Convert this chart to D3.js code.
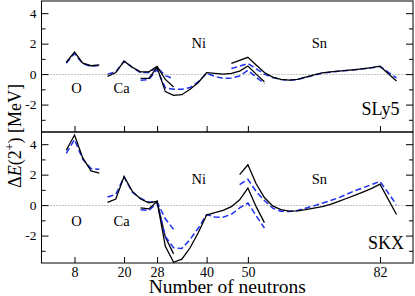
<!DOCTYPE html>
<html>
<head>
<meta charset="utf-8">
<script src="https://cdn.jsdelivr.net/npm/d3@7"></script>
<style>
  body { margin: 0; background: #fff; }
</style>
</head>
<body>
<div id="chart"></div>
<script>
'use strict';

// neutron numbers of each isotope chain
var oN = [6, 8, 10, 12, 14];
var caN = [16, 18, 20, 22, 24, 26, 28, 30, 32];
var niN = [24, 26, 28, 30, 32, 34, 36, 38, 40, 42, 44, 46, 48, 50, 52, 54];
var snN = [46, 48, 50, 52, 54, 56, 58, 60, 62, 64, 66, 68, 70, 72, 74, 76, 78, 80, 82, 86];

// SLy5 panel: solid (black) and dashed (blue)
var slyOSolid = [0.78, 1.45, 0.72, 0.55, 0.6];
var slyODashed = [0.72, 1.35, 0.68, 0.5, 0.58];
var slyCaSolid = [-0.15, 0.1, 0.85, 0.45, 0.15, 0.15, 0.5, -0.35, -0.85];
var slyCaDashed = [0.0, 0.15, 0.85, 0.45, 0.1, 0.1, 0.45, -0.1, -0.3];
var slyNiSolid = [-0.28, -0.28, 0.45, -1.15, -1.4, -1.35, -1.0, -0.55, 0.1, 0.05, 0.0, 0.05, 0.2, 0.53, 0.0, -0.5];
var slyNiDashed = [-0.4, -0.35, 0.3, -0.9, -1.0, -1.0, -0.88, -0.5, 0.05, -0.15, -0.28, -0.25, -0.12, 0.25, -0.2, -0.62];
var slySnSolid = [0.7, 0.9, 1.1, 0.6, 0.1, -0.2, -0.35, -0.4, -0.35, -0.2, -0.05, 0.08, 0.15, 0.2, 0.25, 0.3, 0.36, 0.43, 0.52, -0.45];
var slySnDashed = [0.37, 0.52, 0.7, 0.35, 0.0, -0.22, -0.35, -0.4, -0.36, -0.22, -0.07, 0.06, 0.13, 0.19, 0.24, 0.29, 0.35, 0.42, 0.5, -0.25];

// SKX panel
var skxOSolid = [3.6, 4.6, 3.1, 2.25, 2.1];
var skxODashed = [3.4, 4.3, 3.0, 2.4, 2.35];
var skxCaSolid = [0.18, 0.4, 1.88, 0.9, 0.4, 0.15, 0.25, -2.1, -3.2];
var skxCaDashed = [0.53, 0.7, 1.85, 0.85, 0.45, 0.2, 0.2, -0.9, -1.6];
var skxNiSolid = [-0.18, -0.25, 0.25, -2.7, -3.75, -3.55, -2.8, -1.8, -0.65, -0.5, -0.35, -0.1, 0.35, 1.12, -0.1, -1.15];
var skxNiDashed = [-0.3, -0.35, 0.15, -2.05, -2.8, -2.85, -2.25, -1.5, -0.62, -0.78, -0.8, -0.6, -0.18, 0.14, -0.7, -1.5];
var skxSnSolid = [null, 2.0, 2.65, 1.4, 0.5, -0.05, -0.3, -0.4, -0.38, -0.3, -0.2, -0.1, 0.05, 0.25, 0.45, 0.65, 0.87, 1.1, 1.38, -0.62];
var skxSnDashed = [null, 1.35, 1.7, 0.9, 0.3, -0.2, -0.4, -0.42, -0.35, -0.2, -0.05, 0.12, 0.3, 0.48, 0.72, 0.95, 1.15, 1.35, 1.56, 0.03];

var xTicks = [8, 20, 28, 40, 50, 82];
var yMajor = [-2, 0, 2, 4];
var yMinor = [-3, -1, 1, 3];
var chainNames = ['O', 'Ca', 'Ni', 'Sn'];
var chainLabelN = [8.5, 19.4, 38.1, 67.3];

var w = 415, h = 296;
var left = 41.5, right = 413;
var panelH = 131;
var panelTops = [1, 132];

var svg = d3.select('#chart')
  .append('svg')
  .attr('width', w)
  .attr('height', h)
  .attr('viewBox', '0 0 ' + w + ' ' + h);

var x = d3.scaleLinear().domain([0, 90]).range([left, right]);

var panels = [
  {
    name: 'SLy5',
    nameX: 399.5,
    nameY: 115,
    series: [
      [oN, slyOSolid, slyODashed],
      [caN, slyCaSolid, slyCaDashed],
      [niN, slyNiSolid, slyNiDashed],
      [snN, slySnSolid, slySnDashed]
    ],
    labelY: [93, 93, 48, 48]
  },
  {
    name: 'SKX',
    nameX: 404,
    nameY: 248.5,
    series: [
      [oN, skxOSolid, skxODashed],
      [caN, skxCaSolid, skxCaDashed],
      [niN, skxNiSolid, skxNiDashed],
      [snN, skxSnSolid, skxSnDashed]
    ],
    labelY: [226, 226, 183.5, 183.5]
  }
];

panels.forEach(function(p, pi) {
  var top = panelTops[pi];
  var bottom = top + panelH;
  var y = d3.scaleLinear().domain([-3.8, 4.8]).range([bottom, top]);
  var g = svg.append('g');

  // dotted zero line
  g.append('line')
    .attr('x1', left)
    .attr('x2', right)
    .attr('y1', Math.round(y(0)) + 0.5)
    .attr('y2', Math.round(y(0)) + 0.5)
    .attr('stroke', '#888')
    .attr('stroke-width', 1)
    .attr('stroke-dasharray', '1,2');

  var line = d3.line()
    .defined(function(d) { return d[1] !== null; })
    .x(function(d) { return x(d[0]); })
    .y(function(d) { return y(d[1]); });

  p.series.forEach(function(s) {
    var ns = s[0];
    var solid = ns.map(function(n, i) { return [n, s[1][i]]; });
    var dashed = ns.map(function(n, i) { return [n, s[2][i]]; });
    g.append('path')
      .attr('d', line(dashed))
      .attr('fill', 'none')
      .attr('stroke', '#1f2ff0')
      .attr('stroke-width', 1.5)
      .attr('stroke-dasharray', '6,3');
    g.append('path')
      .attr('d', line(solid))
      .attr('fill', 'none')
      .attr('stroke', '#000')
      .attr('stroke-width', 1.3);
  });

  // y axes, ticks pointing inward
  g.append('g')
    .attr('class', 'ylab')
    .attr('transform', 'translate(' + left + ',0)')
    .call(d3.axisLeft(y).tickValues(yMajor).tickSize(-7).tickPadding(5)
      .tickFormat(function(d) { return String(d); }));
  g.append('g')
    .attr('transform', 'translate(' + left + ',0)')
    .call(d3.axisLeft(y).tickValues(yMinor).tickSize(-4).tickFormat(''));
  g.append('g')
    .attr('transform', 'translate(' + right + ',0)')
    .call(d3.axisRight(y).tickValues(yMajor).tickSize(-7).tickFormat(''));
  g.append('g')
    .attr('transform', 'translate(' + right + ',0)')
    .call(d3.axisRight(y).tickValues(yMinor).tickSize(-4).tickFormat(''));

  if (pi === 1) {
    g.append('g')
      .attr('class', 'xlab')
      .attr('transform', 'translate(0,' + bottom + ')')
      .call(d3.axisBottom(x).tickValues(xTicks).tickSize(-6).tickPadding(4).tickFormat(d3.format('d')));
  } else {
    g.append('g')
      .attr('transform', 'translate(0,' + bottom + ')')
      .call(d3.axisBottom(x).tickValues(xTicks).tickSize(-6).tickFormat(''));
  }

  g.selectAll('.domain').remove();
  g.selectAll('.tick line').attr('stroke', '#000');
  g.selectAll('.ylab .tick text').attr('font-size', 13.5).attr('fill', '#000');
  g.selectAll('.xlab .tick text').attr('font-size', 14).attr('fill', '#000');

  // frame
  g.append('rect')
    .attr('x', left)
    .attr('y', top)
    .attr('width', right - left)
    .attr('height', panelH)
    .attr('fill', 'none')
    .attr('stroke', '#000')
    .attr('stroke-width', 1);

  // chain labels
  chainNames.forEach(function(c, i) {
    g.append('text')
      .attr('x', x(chainLabelN[i]))
      .attr('y', p.labelY[i])
      .attr('text-anchor', 'middle')
      .attr('font-size', 14.5)
      .text(c);
  });

  // interaction name
  g.append('text')
    .attr('x', p.nameX)
    .attr('y', p.nameY)
    .attr('text-anchor', 'end')
    .attr('font-size', 18)
    .text(p.name);
});

// axis titles
svg.append('text')
  .attr('x', (left + right) / 2)
  .attr('y', 292.5)
  .attr('text-anchor', 'middle')
  .attr('font-size', 19.5)
  .text('Number of neutrons');

var yTitle = svg.append('text')
  .attr('transform', 'translate(21,136) rotate(-90)')
  .attr('text-anchor', 'middle')
  .attr('font-size', 18);
yTitle.append('tspan').text('\u0394');
yTitle.append('tspan').attr('font-style', 'italic').text('E');
yTitle.append('tspan').text('(2');
yTitle.append('tspan').attr('font-size', 12).attr('dy', -7).text('+');
yTitle.append('tspan').attr('dy', 7).text(') [MeV]');

// every text in Times-like serif
svg.selectAll('text').attr('font-family', 'Liberation Serif');
</script>
</body>
</html>
